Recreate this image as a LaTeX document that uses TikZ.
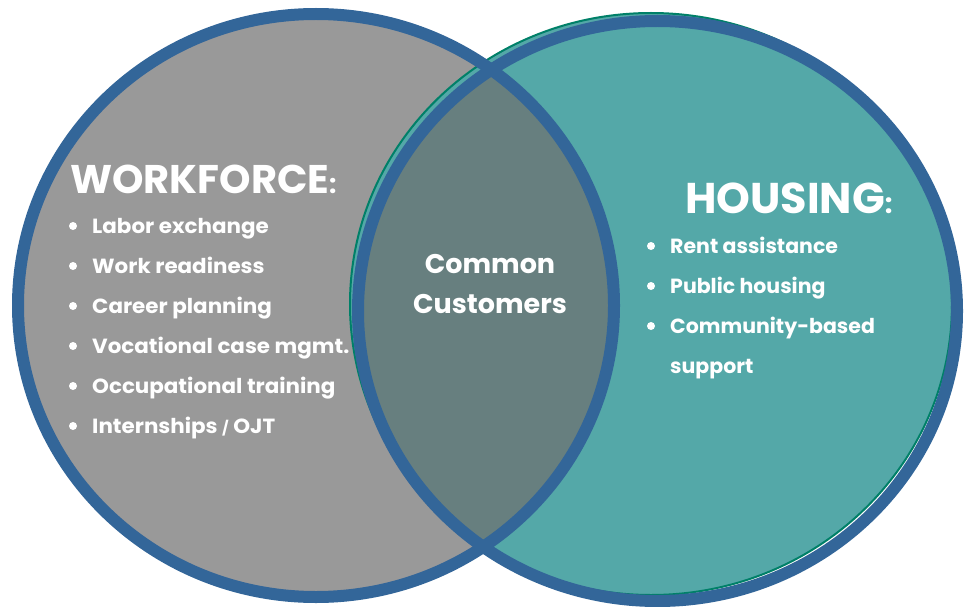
\documentclass[tikz,border=0pt]{standalone}
\usepackage{fontspec}
\setmainfont{Poppins}
\newfontfamily\widepoppins{Poppins}[FakeStretch=1.045]
\definecolor{ringblue}{RGB}{51,102,153}
\definecolor{workgray}{RGB}{153,153,153}
\definecolor{houseteal}{RGB}{84,168,168}
\definecolor{overlap}{RGB}{103,127,127}
\definecolor{edgegreen}{RGB}{0,128,104}
\begin{document}
\begin{tikzpicture}[x=1pt,y=-1pt,
  ring/.style={draw=ringblue,line width=12pt},
  heading/.style={anchor=base west,inner sep=0pt,text=white,font=\fontsize{40}{40}\selectfont\bfseries},
  item/.style={anchor=base west,inner sep=0pt,text=white,font=\fontsize{20.5}{20.5}\selectfont\bfseries},
  leftitem/.style={item,font=\widepoppins\fontsize{20.5}{20.5}\selectfont\bfseries},
  middle/.style={anchor=base,inner sep=0pt,text=white,font=\fontsize{27}{27}\selectfont\bfseries},
  dot/.style={fill=white}]
\useasboundingbox (0,0) rectangle (966,607);

% circle shapes
\fill[workgray] (316,305.5) ellipse [x radius=298, y radius=291.5];
\filldraw[fill=houseteal,draw=edgegreen,line width=2pt] (651,304) ellipse [x radius=301, y radius=291];
\begin{scope}
  \clip (316,305.5) ellipse [x radius=298, y radius=291.5];
  \fill[overlap] (657.5,311) ellipse [x radius=299.5, y radius=290];
\end{scope}
\draw[ring] (316,305.5) ellipse [x radius=298, y radius=291.5];
\draw[ring] (657.5,311) ellipse [x radius=299.5, y radius=290];

% workforce side
\node[heading] (wf) at (70,193) {WORKFORCE\fontsize{26}{26}\selectfont:};
\foreach \t [count=\i] in {Labor exchange, Work readiness, Career planning, Vocational case mgmt., Occupational training, Internships {\fontsize{14}{14}\selectfont/} OJT} {
  \node[leftitem] (w\i) at (92,233+40*\i-40) {\t};
  \fill[dot] (73,226+40*\i-40) circle (4);
}

% housing side
\node[heading,font=\fontsize{43}{43}\selectfont\bfseries] (hs) at (685,213) {HOUSING\fontsize{27}{27}\selectfont:};
\foreach \t [count=\i] in {Rent assistance, Public housing, Community-based} {
  \node[item] (h\i) at (670,253+40*\i-40) {\t};
  \fill[dot] (651,246+40*\i-40) circle (4);
}
\node[item] (h4) at (670,373) {support};

% shared middle
\node[middle] (c1) at (490,273) {Common};
\node[middle] (c2) at (490,313) {Customers};
\end{tikzpicture}
\end{document}
